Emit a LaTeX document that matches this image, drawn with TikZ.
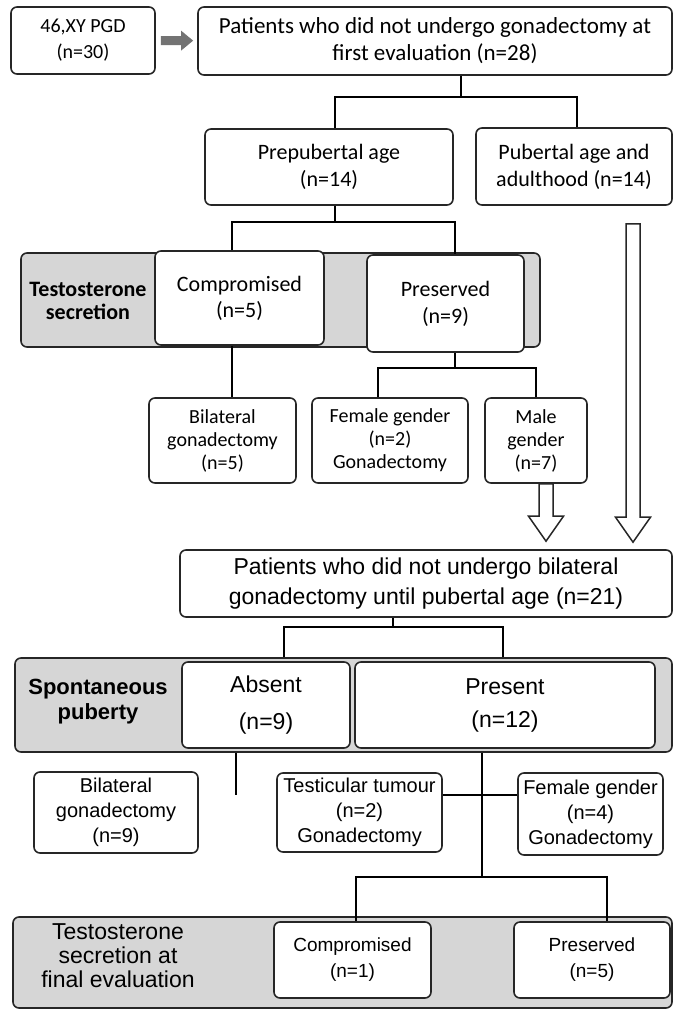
\documentclass[tikz,border=0pt]{standalone}
\usepackage{fontspec}
\setmainfont{Carlito}
\newfontfamily\arialfont{Liberation Sans}
\usetikzlibrary{arrows.meta,calc}

\begin{document}
\begin{tikzpicture}[x=0.5pt,y=-0.5pt,line width=0.75pt]
  \tikzstyle{box}=[draw=black!85,line width=0.8pt,rounded corners=3pt,fill=white,align=center,inner sep=1pt]
  \tikzstyle{band}=[box,fill=black!16]
  \tikzstyle{big}=[font=\fontsize{11}{13.5}\selectfont]
  \tikzstyle{small}=[font=\fontsize{10}{11.5}\selectfont]
  \tikzstyle{low}=[font=\arialfont\fontsize{10}{12.5}\selectfont]
  \tikzstyle{fatarrow}=[draw=black!55,line width=4.5pt,-{Triangle[length=6pt,width=9.5pt]},shorten <=2.5pt,shorten >=2pt]
  \tikzstyle{hollow}=[draw=black!85,fill=white,line width=0.75pt,line join=miter]

  \useasboundingbox (0,0) rectangle (673,1010);

  % first evaluation
  \node[box,font=\fontsize{10}{13}\selectfont,minimum width=72pt,minimum height=33.5pt] (pgd) at (83,40.5) {46,XY PGD\\(n=30)};
  \node[box,font=\fontsize{11.5}{13.5}\selectfont,minimum width=237pt,minimum height=34pt] (first) at (435,41) {Patients who did not undergo gonadectomy at\\first evaluation (n=28)};
  \node[box,big,minimum width=124pt,minimum height=38pt]   (prep)  at (329,167)  {Prepubertal age\\(n=14)};
  \node[box,big,minimum width=98pt,minimum height=38.5pt]  (pub)   at (574,166.5) {Pubertal age and\\adulthood (n=14)};

  % testosterone secretion
  \node[band,minimum width=259.5pt,minimum height=47pt] (band1) at (280.5,300) {};
  \node[font=\bfseries\fontsize{11}{11.5}\selectfont,align=center] (lab1) at (88,301) {Testosterone\\secretion};
  \node[box,font=\fontsize{11}{13}\selectfont,minimum width=84.5pt,minimum height=47pt] (comp1) at (239.5,298) {Compromised\\(n=5)};
  \node[box,font=\fontsize{11}{13.5}\selectfont,minimum width=78.5pt,minimum height=48.5pt] (pres1) at (445.5,303.5) {Preserved\\(n=9)};

  \node[box,small,minimum width=73.5pt,minimum height=42.5pt] (bil1)  at (222.5,440.5) {Bilateral\\gonadectomy\\(n=5)};
  \node[box,small,minimum width=78pt,minimum height=42.5pt]   (fem1)  at (390,440.5)   {Female gender\\(n=2)\\Gonadectomy};
  \node[box,small,minimum width=51pt,minimum height=42.5pt]   (male1) at (536,440.5)   {Male\\gender\\(n=7)};

  % pubertal age
  \node[box,font=\arialfont\fontsize{11.5}{15}\selectfont,minimum width=246pt,minimum height=33.5pt] (second) at (426,583.5) {Patients who did not undergo bilateral\\gonadectomy until pubertal age (n=21)};

  \node[band,minimum width=328.5pt,minimum height=47pt] (band2) at (343.5,705) {};
  \node[font=\arialfont\bfseries\fontsize{11}{12.5}\selectfont,align=center] (lab2) at (98,702) {Spontaneous\\puberty};
  \node[box,font=\arialfont\fontsize{11.5}{18.5}\selectfont,minimum width=84pt,minimum height=43pt]  (absent)  at (266,705) {Absent\\(n=9)};
  \node[box,font=\arialfont\fontsize{11.5}{16.5}\selectfont,minimum width=150pt,minimum height=43pt] (present) at (505,705) {Present\\(n=12)};

  \node[box,low,minimum width=82pt,minimum height=40.5pt]   (bil2)   at (116,812.5)   {Bilateral\\gonadectomy\\(n=9)};
  \node[box,low,minimum width=82.5pt,minimum height=39.5pt] (tumour) at (359.5,812.5) {Testicular tumour\\(n=2)\\Gonadectomy};
  \node[box,low,minimum width=72.5pt,minimum height=41pt]   (fem2)   at (590.5,814)   {Female gender\\(n=4)\\Gonadectomy};

  % final evaluation
  \node[band,minimum width=329.5pt,minimum height=45.5pt] (band3) at (342.5,962.5) {};
  \node[font=\arialfont\fontsize{11.5}{12}\selectfont,align=center] (lab3) at (118,956) {Testosterone\\secretion at\\final evaluation};
  \node[box,font=\arialfont\fontsize{9.5}{13}\selectfont,minimum width=78.5pt,minimum height=38pt] (comp2) at (352.5,960) {Compromised\\(n=1)};
  \node[box,font=\arialfont\fontsize{9.5}{13}\selectfont,minimum width=78pt,minimum height=38pt]   (pres2) at (592,960)   {Preserved\\(n=5)};

  % connectors
  \draw[fatarrow] (pgd) -- (first);

  \coordinate (j1) at (461,97);
  \coordinate (k1) at (335,97);
  \coordinate (k2) at (577,97);
  \draw (j1 |- first.south) -- (j1);
  \draw (k1 |- prep.north) -- (k1) -- (k2) -- (k2 |- pub.north);

  \coordinate (j2) at (335,222);
  \coordinate (k3) at (232,222);
  \coordinate (k4) at (455,222);
  \draw (j2 |- prep.south) -- (j2);
  \draw (k3 |- comp1.north) -- (k3) -- (k4) -- (k4 |- pres1.north);
  \draw (k3 |- comp1.south) -- (k3 |- bil1.north);

  \coordinate (j3) at (455,368);
  \coordinate (k5) at (378,368);
  \coordinate (k6) at (536,368);
  \draw (j3 |- pres1.south) -- (j3);
  \draw (k5 |- fem1.north) -- (k5) -- (k6) -- (k6 |- male1.north);

  % hollow arrows into second box
  \coordinate (a1) at ($(male1.south)+(10,0)$);
  \coordinate (b1) at ($(a1 |- second.north)+(0,-8)$);
  \draw[hollow] ($(a1)+(-7,0)$) -- ($(b1)+(-7,-25)$) -- ($(b1)+(-17.5,-25)$) -- (b1)
    -- ($(b1)+(17.5,-25)$) -- ($(b1)+(7,-25)$) -- ($(a1)+(7,0)$) -- cycle;
  \coordinate (a2) at (633,224);
  \coordinate (b2) at ($(a2 |- second.north)+(0,-7)$);
  \draw[hollow] ($(a2)+(-7,0)$) -- ($(b2)+(-7,-25)$) -- ($(b2)+(-17.5,-25)$) -- (b2)
    -- ($(b2)+(17.5,-25)$) -- ($(b2)+(7,-25)$) -- ($(a2)+(7,0)$) -- cycle;

  \coordinate (j4) at (393,627);
  \coordinate (k7) at (284,627);
  \coordinate (k8) at (503,627);
  \draw (j4 |- second.south) -- (j4);
  \draw (k7 |- band2.north) -- (k7) -- (k8) -- (k8 |- band2.north);

  \coordinate (d1) at (236,795);
  \draw (d1 |- band2.south) -- (d1);

  \coordinate (j5) at (482,877);
  \coordinate (k9) at (356,877);
  \coordinate (k10) at (607,877);
  \draw (j5 |- band2.south) -- (j5);
  \draw (k9 |- comp2.north) -- (k9) -- (k10) -- (k10 |- pres2.north);

  \coordinate (h1) at (482,795);
  \draw (h1 -| tumour.east) -- (h1 -| fem2.west);
\end{tikzpicture}
\end{document}
